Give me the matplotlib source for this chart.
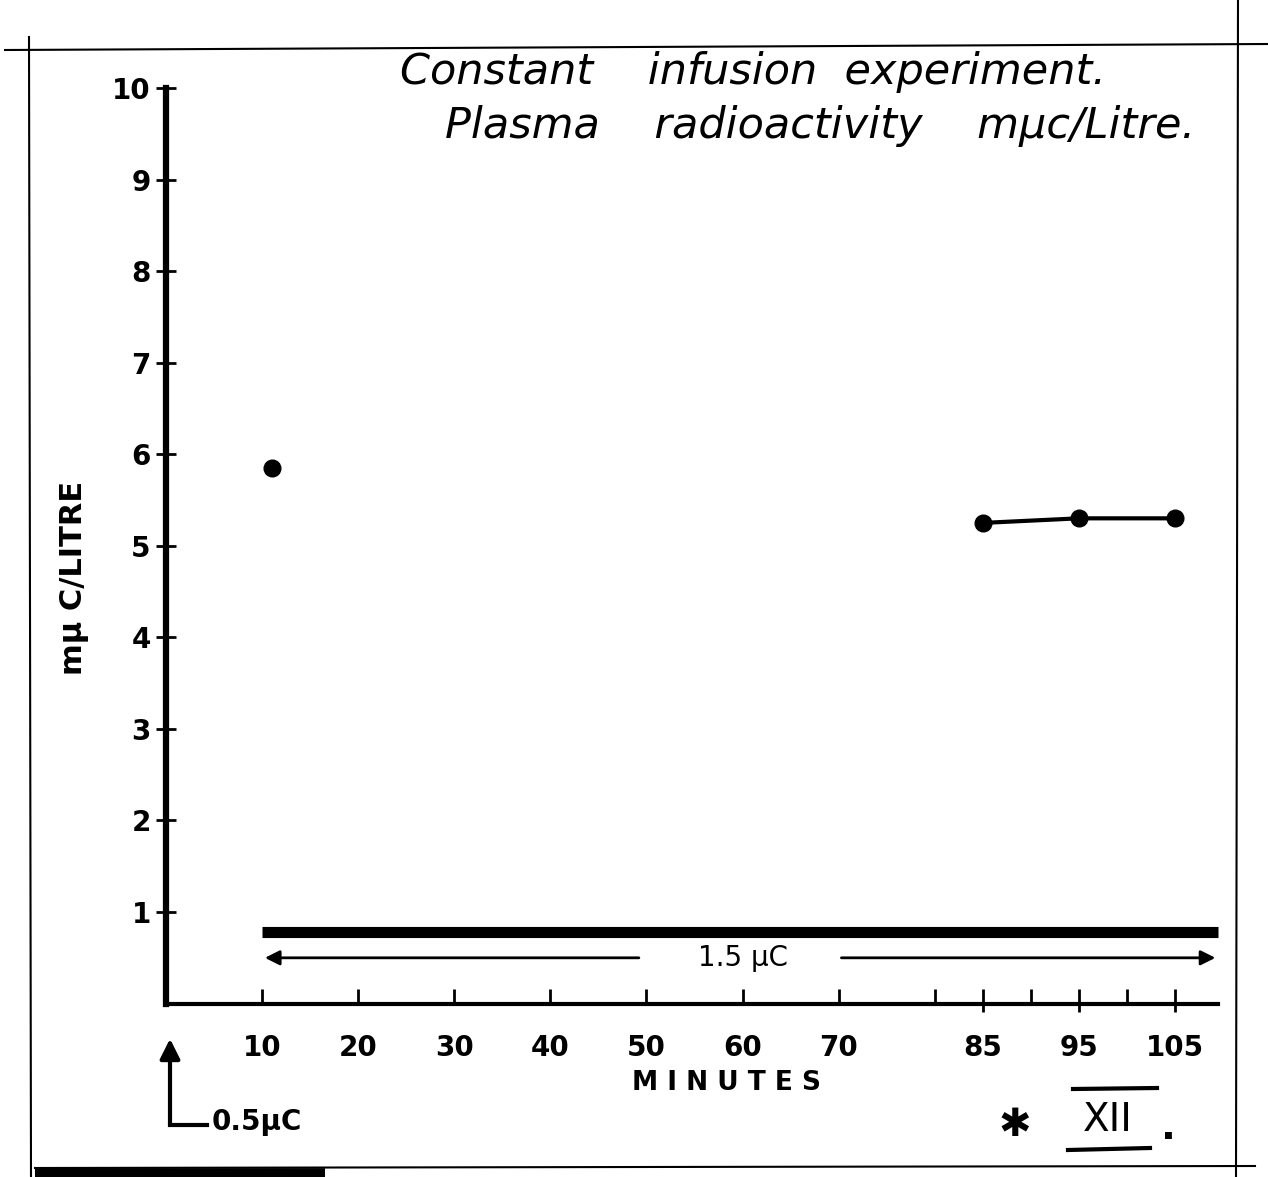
import matplotlib.pyplot as plt

# data
minutes_first = [11]
activity_first = [5.85]
minutes_late = [85, 95, 105]
activity_late = [5.25, 5.3, 5.3]
infusion_span = [10, 109.5]   # constant infusion, 1.5 uC
infusion_level = 0.78
arrow_level = 0.5

xtick_labelled = [10, 20, 30, 40, 50, 60, 70, 85, 95, 105]
xtick_minor = [80, 90, 100]
ytick_vals = [1, 2, 3, 4, 5, 6, 7, 8, 9, 10]

W, H = 1268, 1177
fig = plt.figure(figsize=(W / 100, H / 100), dpi=100)

# page decoration in pixel coords
bg = fig.add_axes([0, 0, 1, 1])
bg.set_xlim(0, W)
bg.set_ylim(H, 0)
bg.axis('off')
bg.plot([5, 1268], [50, 44], color='black', lw=1.5)
bg.plot([29, 31], [37, 1177], color='black', lw=1.5)
bg.plot([1238, 1236], [0, 1177], color='black', lw=1.5)
bg.plot([35, 1255], [1168, 1166], color='black', lw=1.5)
bg.plot([35, 325], [1173, 1173], color='black', lw=7, solid_capstyle='butt')

# main axes: x 0..110, y 0..10
ax = fig.add_axes([166 / W, (H - 1003.6) / H, 1057 / W, 915.6 / H])
ax.patch.set_alpha(0)
ax.set_xlim(0, 110)
ax.set_ylim(0, 10)
for s in ['top', 'right']:
    ax.spines[s].set_visible(False)
ax.spines['left'].set_linewidth(4.5)
ax.spines['left'].set_bounds(0, 10)
ax.spines['bottom'].set_linewidth(3)
ax.spines['bottom'].set_bounds(0, 109.5)

lab_font = dict(family='DejaVu Sans', weight='bold', size=20)

ax.set_yticks(ytick_vals)
ax.set_yticklabels([str(v) for v in ytick_vals], fontdict=lab_font)
ax.tick_params(axis='y', direction='inout', length=14, width=2, pad=4)

ax.set_xticks(xtick_labelled)
ax.set_xticklabels([str(v) for v in xtick_labelled], fontdict=lab_font)
ax.set_xticks(xtick_minor, minor=True)
ax.tick_params(axis='x', which='both', direction='in', length=11, width=2, pad=22)

# little down-ticks under 85, 95, 105
sec = ax.secondary_xaxis('bottom')
sec.set_xticks(minutes_late)
sec.set_xticklabels([])
sec.tick_params(direction='out', length=6, width=2)
sec.spines['bottom'].set_visible(False)

ax.set_xlabel('M I N U T E S', fontdict=dict(family='DejaVu Sans', weight='bold', size=19))
ax.xaxis.set_label_coords(0.53, -0.072)
ax.set_ylabel('mμ C/LITRE', fontdict=dict(family='DejaVu Sans', weight='bold', size=22))
ax.yaxis.set_label_coords(-0.073, 0.465)

# data
ax.plot(minutes_first, activity_first, 'o', color='black', ms=12)
ax.plot(minutes_late, activity_late, '-o', color='black', ms=12, lw=3)

# infusion bar and its span arrows
ax.plot(infusion_span, [infusion_level, infusion_level], color='black', lw=8,
        solid_capstyle='butt')
ax.annotate('', xy=(infusion_span[0], arrow_level), xytext=(49.5, arrow_level),
            arrowprops=dict(arrowstyle='-|>', color='black', lw=2, mutation_scale=22))
ax.annotate('', xy=(infusion_span[1], arrow_level), xytext=(70, arrow_level),
            arrowprops=dict(arrowstyle='-|>', color='black', lw=2, mutation_scale=22))
ax.text(60, arrow_level, '1.5 μC', ha='center', va='center',
        family='DejaVu Sans', size=20)

# handwritten title
bg.text(400, 72, 'Constant    infusion  experiment.', ha='left', va='center',
        family='DejaVu Sans', style='italic', size=31)
bg.text(445, 126, 'Plasma    radioactivity    mμc/Litre.', ha='left', va='center',
        family='DejaVu Sans', style='italic', size=31)

# bottom-left 0.5 uC injection marker
bg.annotate('', xy=(170, 1036), xytext=(170, 1126),
            arrowprops=dict(arrowstyle='-|>', color='black', lw=3, mutation_scale=30))
bg.plot([170, 207], [1125, 1125], color='black', lw=3)
bg.text(212, 1122, '0.5μC', ha='left', va='center', family='DejaVu Sans',
        weight='bold', size=20)

# figure number
bg.text(1015, 1125, '✱', ha='center', va='center', family='DejaVu Sans', size=28,
        weight='bold')
bg.text(1108, 1120, 'XII', ha='center', va='center', family='DejaVu Sans', size=28)
bg.plot([1073, 1157], [1089, 1088], color='black', lw=3)
bg.plot([1068, 1150], [1150, 1148], color='black', lw=3)
bg.text(1168, 1128, '.', ha='center', va='center', family='DejaVu Sans', size=28,
        weight='bold')

fig.savefig('out.png', dpi=100)
